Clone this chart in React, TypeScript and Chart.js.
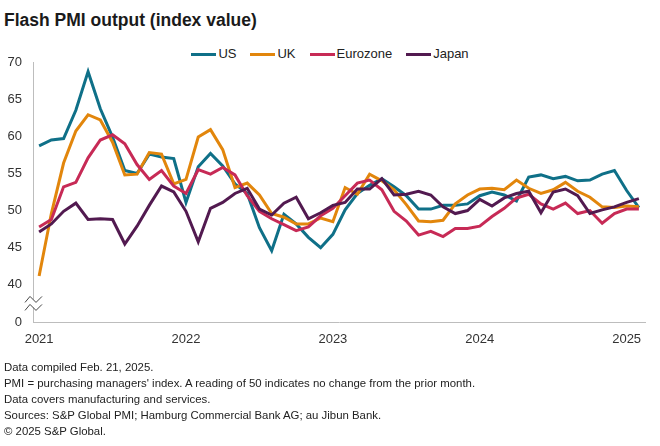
import React, { useEffect, useRef } from "react";
import { Chart, registerables } from "chart.js";

Chart.register(...registerables);

// ---- Data ----
const years = [2021, 2022, 2023, 2024, 2025];
const monthCount = 50; // Jan 2021 .. Feb 2025
const months = years
  .flatMap((y) => Array.from({ length: 12 }, (_, m) => `${y}-${String(m + 1).padStart(2, "0")}`))
  .slice(0, monthCount);

const usValues = [
  58.7, 59.5, 59.7, 63.5, 68.7, 63.7, 59.9, 55.4, 55.0, 57.6, 57.2, 57.0,
  51.1, 55.9, 57.7, 56.0, 53.6, 52.3, 47.7, 44.6, 49.5, 48.2, 46.4, 45.0,
  46.8, 50.1, 52.3, 53.4, 54.3, 53.2, 52.0, 50.2, 50.2, 50.7, 50.7, 50.9,
  52.0, 52.5, 52.1, 51.3, 54.5, 54.8, 54.3, 54.6, 54.0, 54.1, 54.9, 55.4,
  52.7, 50.4,
];
const ukValues = [
  41.2, 49.6, 56.4, 60.7, 62.9, 62.2, 59.2, 54.8, 54.9, 57.8, 57.6, 53.6,
  54.2, 59.9, 60.9, 58.2, 53.1, 53.7, 52.1, 49.6, 49.1, 48.2, 48.2, 49.0,
  48.5, 53.1, 52.2, 54.9, 54.0, 52.8, 50.8, 48.6, 48.5, 48.7, 50.9, 52.1,
  52.9, 53.0, 52.8, 54.1, 53.0, 52.3, 52.8, 53.8, 52.6, 51.8, 50.5, 50.4,
  50.6, 50.5,
];
const eurozoneValues = [
  47.8, 48.8, 53.2, 53.8, 57.1, 59.5, 60.2, 59.0, 56.2, 54.2, 55.4, 53.3,
  52.3, 55.5, 54.9, 55.8, 54.8, 52.0, 49.9, 48.9, 48.1, 47.3, 47.8, 49.3,
  50.3, 52.0, 53.7, 54.1, 52.8, 49.9, 48.6, 46.7, 47.2, 46.5, 47.6, 47.6,
  47.9, 49.2, 50.3, 51.7, 52.2, 50.9, 50.2, 51.0, 49.6, 50.0, 48.3, 49.6,
  50.2, 50.2,
];
const japanValues = [
  47.1, 48.2, 49.9, 51.0, 48.8, 48.9, 48.8, 45.5, 47.9, 50.7, 53.3, 52.5,
  49.9, 45.8, 50.3, 51.1, 52.3, 53.0, 50.2, 49.4, 51.0, 51.8, 48.9, 49.7,
  50.7, 51.1, 52.9, 52.9, 54.3, 52.1, 52.2, 52.6, 52.1, 50.5, 49.6, 50.0,
  51.5, 50.6, 51.7, 52.3, 52.6, 49.7, 52.5, 52.9, 52.0, 49.6, 50.1, 50.5,
  51.1, 51.6,
];

const seriesNames = ["US", "UK", "Eurozone", "Japan"];
const seriesColors = ["#0f7088", "#e2860c", "#c72a56", "#521a50"];
const seriesValues = [usValues, ukValues, eurozoneValues, japanValues];

// Y axis is broken: the lowest tick sits one step below 40 and is labelled "0".
const yMin = 35;
const yMax = 70;
const yStep = 5;
const breakTickValue = 35;
const breakTickLabel = "0";

const notes = [
  "Data compiled Feb. 21, 2025.",
  "PMI = purchasing managers' index. A reading of 50 indicates no change from the prior month.",
  "Data covers manufacturing and services.",
  "Sources: S&P Global PMI; Hamburg Commercial Bank AG; au Jibun Bank.",
  "\u00a9 2025 S&P Global.",
];

const FONT = "'Liberation Sans', Arial, sans-serif";

const axisBreakPlugin = {
  id: "axisBreak",
  afterDraw(chart: any) {
    const { ctx } = chart;
    const yScale = chart.scales.y;
    const x = chart.chartArea.left;
    const yc = yScale.getPixelForValue((yMin + 40) / 2);
    ctx.save();
    ctx.fillStyle = "#ffffff";
    ctx.fillRect(x - 4, yc - 4, 8, 8);
    ctx.strokeStyle = "#444";
    ctx.lineWidth = 1;
    for (const dy of [-4, 4]) {
      ctx.beginPath();
      ctx.moveTo(x - 8, yc + dy + 3);
      ctx.lineTo(x - 3, yc + dy - 3);
      ctx.lineTo(x + 3, yc + dy + 3);
      ctx.lineTo(x + 9, yc + dy - 3);
      ctx.stroke();
    }
    ctx.restore();
  },
};

function ChartCanvas() {
  const ref = useRef<HTMLCanvasElement | null>(null);
  useEffect(() => {
    if (!ref.current) return;
    const chart = new Chart(ref.current, {
      type: "line",
      data: {
        labels: months,
        datasets: seriesNames.map((name, i) => ({
          label: name,
          data: seriesValues[i],
          borderColor: seriesColors[i],
          backgroundColor: seriesColors[i],
          borderWidth: 3,
          pointRadius: 0,
          tension: 0,
          fill: false,
          order: seriesNames.length - i,
        })),
      },
      options: {
        animation: false,
        responsive: false,
        layout: { padding: { top: 18, right: 15, left: 0, bottom: 0 } },
        plugins: {
          legend: { display: false },
          tooltip: { enabled: false },
        },
        scales: {
          x: {
            type: "category",
            offset: true,
            grid: { display: false, drawTicks: false },
            border: { display: true, color: "#bdbdbd", width: 1 },
            ticks: {
              autoSkip: false,
              maxRotation: 0,
              padding: 10,
              color: "#333",
              font: { family: FONT, size: 13 },
              callback: function (this: any, value: any) {
                const lab = String(this.getLabelForValue(value));
                return lab.endsWith("-01") ? lab.slice(0, 4) : "";
              },
            },
            afterFit: (s: any) => {
              s.height = 38;
              s.paddingLeft = 0;
              s.paddingRight = 0;
            },
          },
          y: {
            min: yMin,
            max: yMax,
            grid: { display: false, drawTicks: false },
            border: { display: true, color: "#bdbdbd", width: 1 },
            ticks: {
              stepSize: yStep,
              padding: 11,
              color: "#333",
              font: { family: FONT, size: 13 },
              callback: (v: any) => (v === breakTickValue ? breakTickLabel : String(v)),
            },
            afterFit: (s: any) => {
              s.width = 33;
              s.paddingTop = 0;
              s.paddingBottom = 0;
            },
          },
        },
      },
      plugins: [axisBreakPlugin],
    });
    return () => chart.destroy();
  }, []);
  return <canvas ref={ref} width={660} height={316} style={{ display: "block", width: 660, height: 316 }} />;
}

export default function App() {
  useEffect(() => {
    document.body.style.margin = "0";
  }, []);
  return (
    <div style={{ position: "relative", width: 660, height: 446, background: "#fff", fontFamily: FONT, overflow: "hidden" }}>
      <div style={{ position: "absolute", left: 4, top: 8, fontSize: 17.5, fontWeight: 700, color: "#1a1a1a", lineHeight: "24px", whiteSpace: "nowrap" }}>
        Flash PMI output (index value)
      </div>
      <div style={{ position: "absolute", left: 0, top: 46, width: 660, height: 16, display: "flex", justifyContent: "center", alignItems: "center", gap: 14 }}>
        {seriesNames.map((name, i) => (
          <div key={name} style={{ display: "flex", alignItems: "center", gap: 2 }}>
            <div style={{ width: 25, height: 3, background: seriesColors[i] }} />
            <span style={{ fontSize: 13, color: "#222", lineHeight: "16px" }}>{name}</span>
          </div>
        ))}
      </div>
      <div style={{ position: "absolute", left: 0, top: 44 }}>
        <ChartCanvas />
      </div>
      <div style={{ position: "absolute", left: 4, top: 359, fontSize: 11.4, color: "#222", lineHeight: "16px" }}>
        {notes.map((n) => (
          <div key={n} style={{ whiteSpace: "nowrap" }}>{n}</div>
        ))}
      </div>
    </div>
  );
}
